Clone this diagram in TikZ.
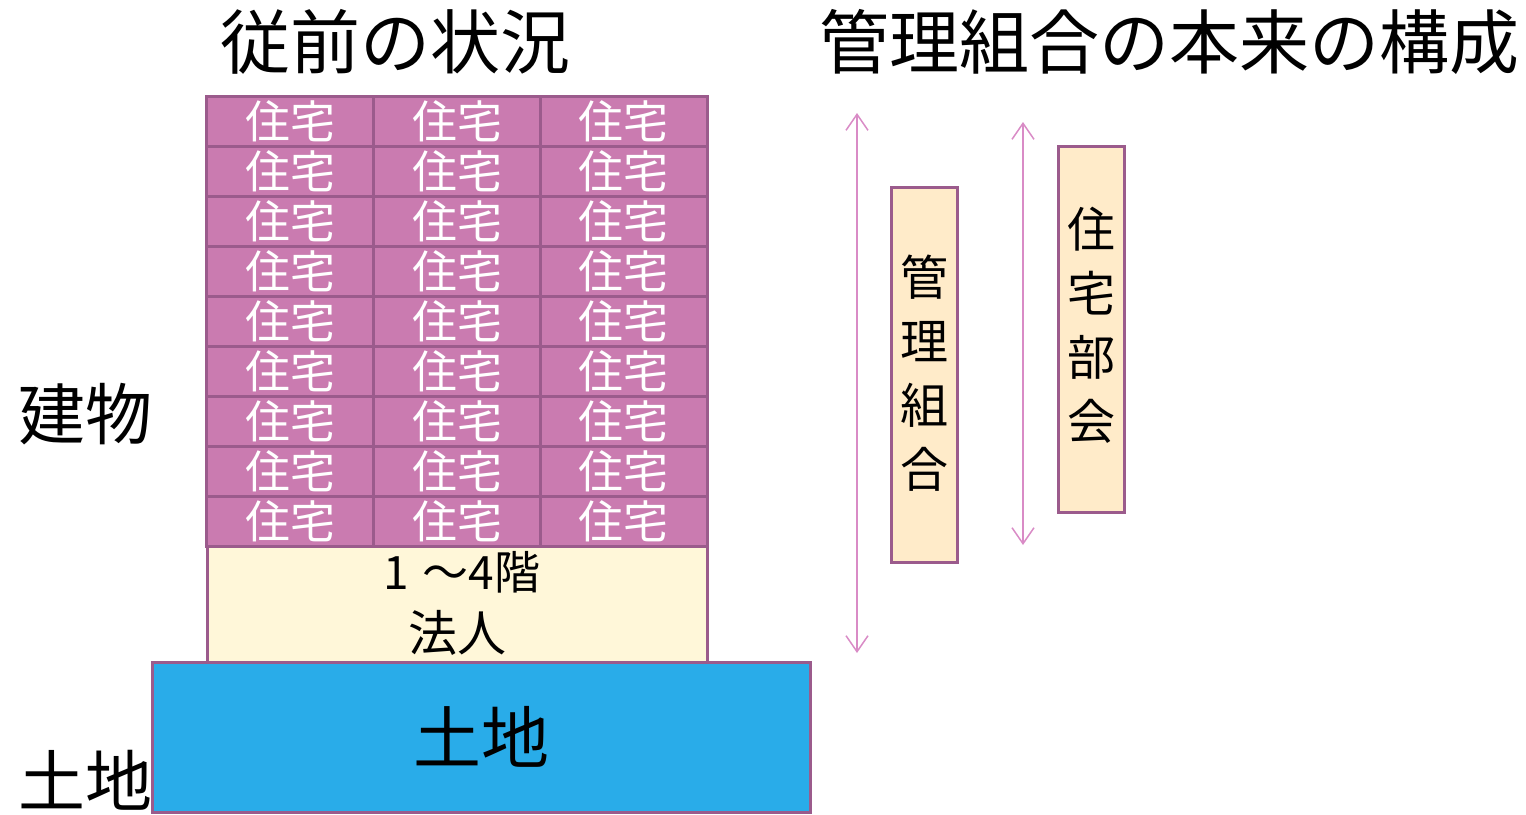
\documentclass[tikz,border=0pt]{standalone}
\usepackage{fontspec}
\newfontfamily\cjk{Noto Sans CJK JP}
\usetikzlibrary{arrows.meta}
\definecolor{cellfill}{HTML}{CA7BB0}
\definecolor{edge}{HTML}{9B5B8C}
\definecolor{lowfill}{HTML}{FFF7D9}
\definecolor{landfill}{HTML}{29ACE9}
\definecolor{orgfill}{HTML}{FFEBC9}
\definecolor{arrowc}{HTML}{D98BC6}
\tikzset{
  cell/.style={draw=edge, line width=3pt, fill=cellfill, minimum width=166.67pt, minimum height=50pt, inner sep=0pt, text=white, font=\cjk\fontsize{45pt}{48pt}\selectfont},
  label/.style={inner sep=0pt, font=\cjk\fontsize{67pt}{70pt}\selectfont},
  title/.style={inner sep=0pt, font=\cjk\fontsize{70pt}{72pt}\selectfont},
  orgbox/.style={draw=edge, line width=3pt, fill=orgfill, inner sep=0pt},
  vtext/.style={inner sep=0pt, align=center, font=\cjk\fontsize{48pt}{64pt}\selectfont},
  span/.style={draw=arrowc, line width=1.5pt, {Straight Barb[length=16pt,width=22pt]}-{Straight Barb[length=16pt,width=22pt]}}
}
\begin{document}
\begin{tikzpicture}[x=1pt,y=1pt]
\useasboundingbox (0,0) rectangle (1526,-814);
% titles
\node[title] (t1) at (395,-42) {従前の状況};
\node[title] (t2) at (1169,-42) {管理組合の本来の構成};
% land
\node[draw=edge, line width=3pt, fill=landfill, minimum width=658pt, minimum height=150pt, inner sep=0pt, font=\cjk\fontsize{68pt}{70pt}\selectfont] (land) at (481,-737) {土地};
% lower floors
\node[draw=edge, line width=3pt, fill=lowfill, minimum width=500pt, minimum height=116pt, inner sep=0pt] (low) at (457,-604) {};
\node[inner sep=0pt, font=\cjk\fontsize{46pt}{50pt}\selectfont] (floors) at (462,-572) {1\hspace{14pt}～4階};
\node[inner sep=0pt, font=\cjk\fontsize{49pt}{50pt}\selectfont] (corp) at (457,-633) {法人};
% housing grid
\foreach \r in {0,...,8} {
  \foreach \c in {0,1,2} {
    \node[cell] (c-\r-\c) at ({207+166.67*\c+83.33},{-121-50*\r}) {住宅};
  }
}
% side labels
\node[label] (bldg) at (86,-414) {建物};
\node[label] (ground) at (86,-780) {土地};
% org boxes
\node[orgbox, minimum width=66pt, minimum height=375pt] (kanri) at (924,-374.5) {};
\node[vtext] (kanritxt) at (924,-373) {管\\理\\組\\合};
\node[orgbox, minimum width=66pt, minimum height=366pt] (bukai) at (1091,-329) {};
\node[vtext] (bukaitxt) at (1091,-325) {住\\宅\\部\\会};
% span arrows
\coordinate (a1t) at (857,-113);
\coordinate (a1b) at (857,-653);
\coordinate (a2t) at (1023,-122);
\coordinate (a2b) at (1023,-545);
\draw[span] (a1t) -- (a1b);
\draw[span] (a2t) -- (a2b);
\end{tikzpicture}
\end{document}
